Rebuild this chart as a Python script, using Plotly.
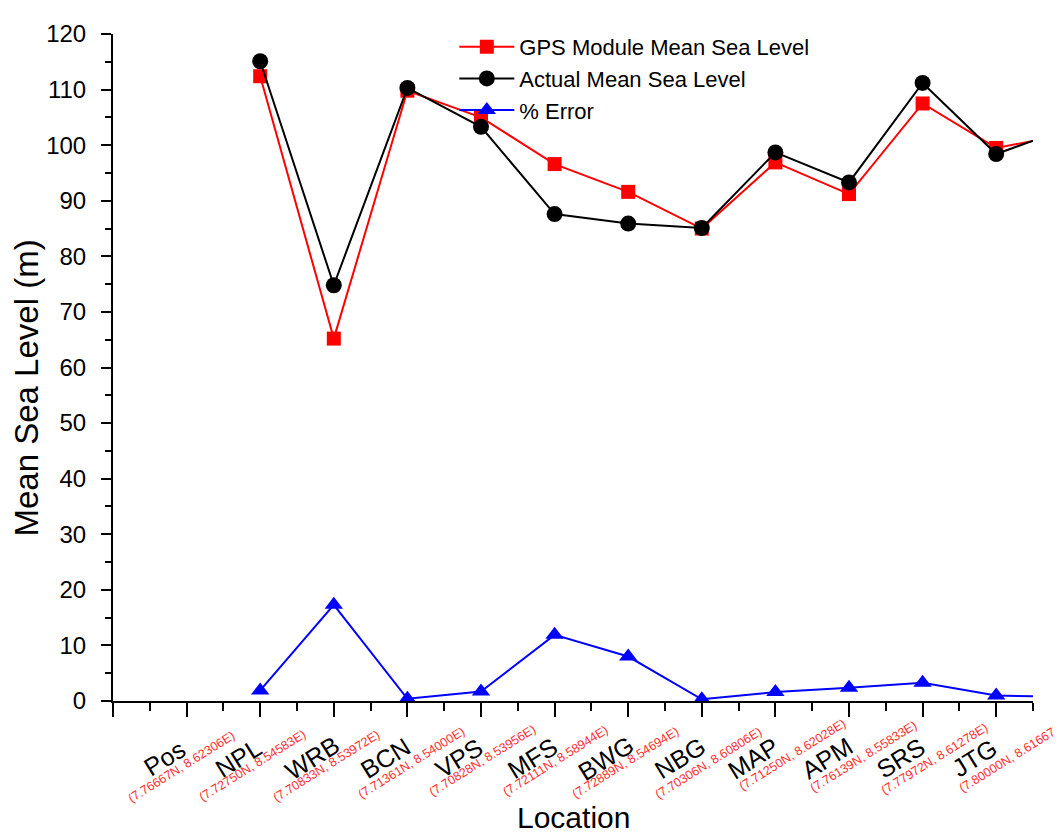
import plotly.graph_objects as go

# ---- data ----
locations = ["Pos", "NPL", "WRB", "BCN", "VPS", "MFS", "BWG", "NBG", "MAP", "APM", "SRS", "JTG"]
coords = ["(7.76667N, 8.62306E)", "(7.72750N, 8.54583E)", "(7.70833N, 8.53972E)",
          "(7.71361N, 8.54000E)", "(7.70828N, 8.53956E)", "(7.72111N, 8.58944E)",
          "(7.72889N, 8.54694E)", "(7.70306N, 8.60806E)", "(7.71250N, 8.62028E)",
          "(7.76139N, 8.55833E)", "(7.77972N, 8.61278E)", "(7.80000N, 8.61667E)"]
gps_msl = [None, 112.4, 65.2, 109.8, 105.0, 96.6, 91.6, 85.0, 96.9, 91.2, 107.5, 99.5, 102.0]
actual_msl = [None, 115.1, 74.8, 110.3, 103.3, 87.6, 85.9, 85.1, 98.7, 93.3, 111.2, 98.4, 103.2]
pct_error = [None, 1.9, 17.3, 0.4, 1.7, 11.9, 8.0, 0.3, 1.6, 2.4, 3.3, 1.0, 0.7]

# label placement nudges (pixels) — styling only
coord_dx = [-5, -8, -7, 4, 1, 1, -3, 7, 17, 14, 12, 16]
coord_cy = [767, 766, 766, 763, 761, 761, 763, 763, 755, 757, 759, 757]

FONT = "Arial, Liberation Sans, sans-serif"
xs = list(range(1, len(gps_msl) + 1))

fig = go.Figure()
fig.add_trace(go.Scatter(x=xs, y=gps_msl, mode="lines+markers", name="GPS Module Mean Sea Level",
                         line=dict(color="#ff0000", width=2),
                         marker=dict(symbol="square", size=14, color="#ff0000")))
fig.add_trace(go.Scatter(x=xs, y=actual_msl, mode="lines+markers", name="Actual Mean Sea Level",
                         line=dict(color="#000000", width=2),
                         marker=dict(symbol="circle", size=16, color="#000000")))
fig.add_trace(go.Scatter(x=xs, y=pct_error, mode="lines+markers", name="% Error",
                         line=dict(color="#0000ff", width=2),
                         marker=dict(symbol="triangle-up", size=16, color="#0000ff")))

annotations = []
for i, (loc, c) in enumerate(zip(locations, coords)):
    annotations.append(dict(x=i + 1, xref="x", y=0, yref="paper", text=loc, showarrow=False,
                            xanchor="center", yanchor="middle", xshift=-22, yshift=-(758 - 701),
                            textangle=-32, font=dict(family=FONT, size=25, color="black")))
    annotations.append(dict(x=i + 1, xref="x", y=0, yref="paper", text=c, showarrow=False,
                            xanchor="center", yanchor="middle", xshift=coord_dx[i],
                            yshift=-(coord_cy[i] - 701),
                            textangle=-32, font=dict(family=FONT, size=12.5, color="#ff3030")))
annotations.append(dict(x=0.5, xref="paper", y=0, yref="paper", text="Location", showarrow=False,
                        xanchor="center", yanchor="middle", yshift=-(817 - 701),
                        font=dict(family=FONT, size=30, color="black")))
annotations.append(dict(x=0, xref="paper", y=0.5, yref="paper", text="Mean Sea Level (m)",
                        showarrow=False, xanchor="center", yanchor="middle", xshift=-87,
                        yshift=-21, textangle=-90,
                        font=dict(family=FONT, size=33, color="black")))

fig.update_layout(
    width=1053, height=824,
    margin=dict(l=105, r=28, t=19, b=131),
    plot_bgcolor="white", paper_bgcolor="white",
    font=dict(family=FONT, color="black"),
    showlegend=True,
    legend=dict(x=0.371, y=1.012, xanchor="left", yanchor="top", bgcolor="rgba(0,0,0,0)",
                font=dict(family=FONT, size=22, color="black"), itemwidth=55,
                tracegroupgap=0),
    annotations=annotations,
)
fig.update_xaxes(range=[0, 12.5], showgrid=False, zeroline=False, showline=True,
                 linecolor="black", linewidth=2, ticks="outside", ticklen=14, tickwidth=2,
                 tickcolor="black", tickmode="linear", tick0=0, dtick=1, showticklabels=False,
                 minor=dict(ticks="outside", ticklen=8, tickwidth=2, tickcolor="black",
                            tick0=0.5, dtick=1, showgrid=False))
fig.update_yaxes(range=[0, 120], showgrid=False, zeroline=False, showline=True,
                 linecolor="black", linewidth=2, ticks="outside", ticklen=10, tickwidth=2,
                 tickcolor="black", tickmode="linear", tick0=0, dtick=10,
                 ticklabelstandoff=10,
                 tickfont=dict(family=FONT, size=24, color="black"),
                 minor=dict(ticks="outside", ticklen=6, tickwidth=2, tickcolor="black",
                            tick0=5, dtick=10, showgrid=False))

fig.write_html("out.html")
